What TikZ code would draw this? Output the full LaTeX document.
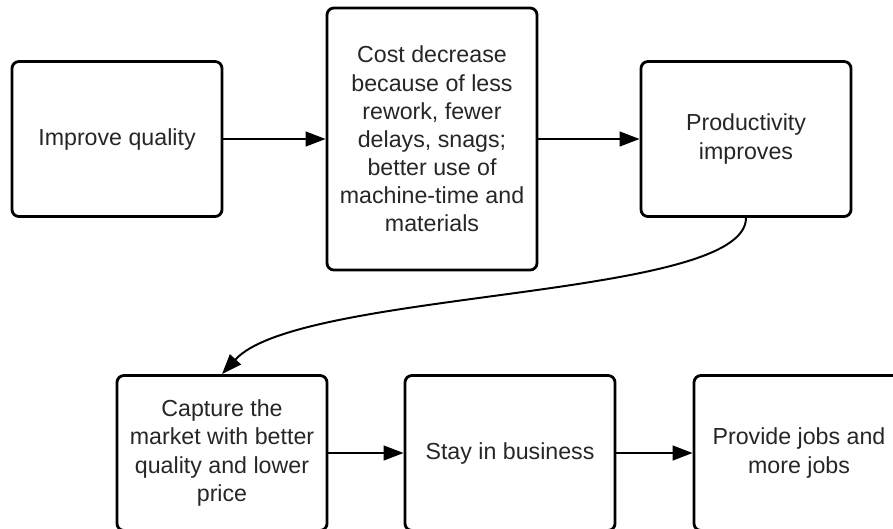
\documentclass[tikz,border=0pt]{standalone}
\usepackage{fontspec}
\setmainfont{Liberation Sans}
\usetikzlibrary{arrows.meta}
\tikzset{box/.style={draw, line width=2pt, rounded corners=5pt, minimum width=5.25cm, minimum height=3.875cm, align=center, inner sep=2pt, text=black!85}}
\begin{document}
\begin{tikzpicture}[x=0.025cm, y=-0.025cm, font=\fontsize{16.5}{20}\selectfont, line join=round, >={Triangle[length=0.5cm,width=0.37cm]}]
	\useasboundingbox (0,0) rectangle (893,528);
	\clip (0,0) rectangle (893,528);
	\path
	(117,139) node[box] (qual) {Improve quality}
	(432,139) node[box, minimum height=6.55cm] (cost) {Cost decrease\\because of less\\rework, fewer\\delays, snags;\\better use of\\machine-time and\\materials}
	(746,139) node[box] (prod) {Productivity\\improves}
	(222,453) node[box] (capt) {Capture the\\market with better\\quality and lower\\price}
	(510,453) node[box] (stay) {Stay in business}
	(799,453) node[box] (jobs) {Provide jobs and\\more jobs};
	\foreach \a/\b in {qual/cost, cost/prod, capt/stay, stay/jobs}
	\draw [->, line width=1.4pt] (\a) -- (\b);
	\draw [->, line width=1.4pt] (prod.south) .. controls +(0,82) and +(78,-85) .. (capt.north);
	
\end{tikzpicture}
\end{document}
